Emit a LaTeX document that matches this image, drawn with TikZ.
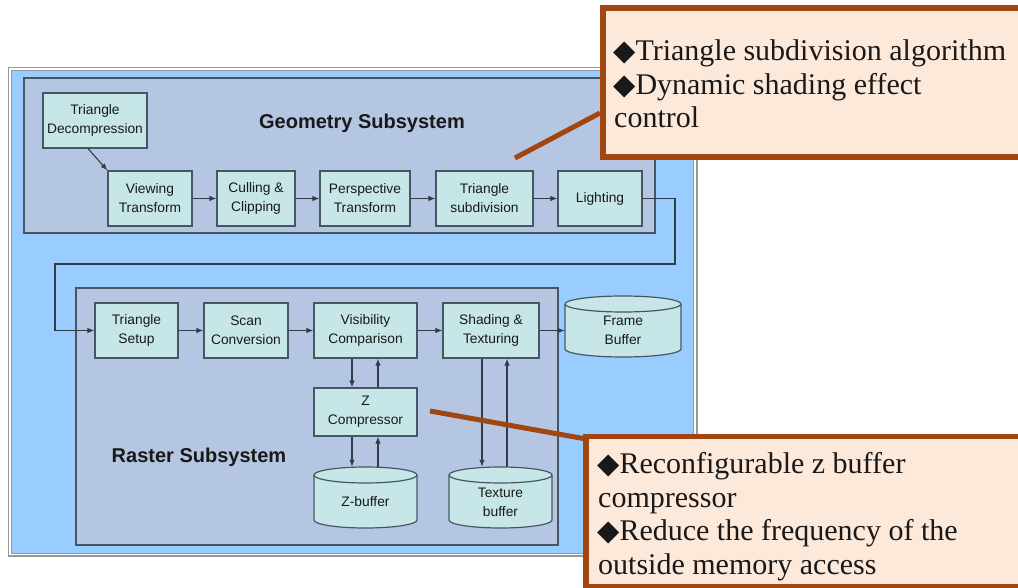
\documentclass[tikz,border=0pt]{standalone}
\usepackage{fontspec}
\setmainfont{Liberation Serif}
\setsansfont{Liberation Sans}
\newfontfamily\symfont{DejaVu Sans}
\usetikzlibrary{arrows.meta,calc}

\definecolor{panelblue}{RGB}{153,204,255}
\definecolor{subfill}{RGB}{180,198,226}
\definecolor{boxfill}{RGB}{198,230,232}
\definecolor{edgegray}{RGB}{72,86,100}
\definecolor{framegray}{RGB}{150,150,150}
\definecolor{notefill}{RGB}{253,233,218}
\definecolor{notebrown}{RGB}{160,70,14}
\definecolor{inkgray}{RGB}{25,25,25}

% drum-shaped store: centre x, centre y, half width, half height
\newcommand\drumshape[4]{%
  \filldraw[drumline]
    (#1-#3,#2-#4+8) -- (#1-#3,#2+#4-8)
    arc[start angle=180,end angle=0,x radius=#3,y radius=8]
    -- (#1+#3,#2-#4+8)
    arc[start angle=0,end angle=-180,x radius=#3,y radius=8] -- cycle;
  \draw[drumline] (#1-#3,#2-#4+8)
    arc[start angle=180,end angle=0,x radius=#3,y radius=8];
}
\newcommand\bullitem{{\symfont\fontsize{29}{34}\selectfont\char"25C6}}

\begin{document}
\begin{tikzpicture}[x=1pt,y=-1pt,
  blk/.style={draw=edgegray, line width=1.2pt, fill=boxfill, text=inkgray,
    font=\sffamily\fontsize{13.8}{19}\selectfont, align=center, inner sep=0pt},
  drumline/.style={draw=edgegray, line width=1.2pt, fill=boxfill},
  drumtext/.style={inner sep=0pt, align=center, text=inkgray,
    font=\sffamily\fontsize{13.8}{19}\selectfont},
  panel/.style={draw=edgegray, line width=1.3pt, fill=subfill},
  paneltitle/.style={text=inkgray, font=\sffamily\bfseries\fontsize{20}{24}\selectfont},
  arr/.style={draw=edgegray!70!black, line width=1.1pt,
    -{Latex[length=7pt,width=5.5pt]}},
  note/.style={draw=notebrown, line width=5.5pt, fill=notefill},
  notetext/.style={anchor=base west, inner sep=0pt, align=left, text=inkgray,
    font=\rmfamily\fontsize{30}{33.7}\selectfont},
  leader/.style={draw=notebrown, line width=5pt}]

\useasboundingbox (0,0) rectangle (1018,588);
\clip (0,0) rectangle (1018,588);

% outer raised frame
\draw[framegray, line width=1.6pt, fill=white] (8.5,67.5) rectangle (697,556);
\draw[draw=framegray, line width=0.8pt, fill=panelblue] (11.5,70.5) rectangle (693,553);

% subsystem panels
\node[panel, minimum width=631, minimum height=155, inner sep=0pt] (geo) at (339.5,155.5) {};
\node[panel, minimum width=482, minimum height=257, inner sep=0pt] (ras) at (317,416.5) {};
\node[paneltitle] (geot) at (362,123) {Geometry Subsystem};
\node[paneltitle] (rast) at (199,457) {Raster Subsystem};

% geometry pipeline
\node[blk, minimum width=104, minimum height=55] (dec) at (95,120.5) {Triangle\\Decompression};
\node[blk, minimum width=84, minimum height=55] (view) at (150,198.5) {Viewing\\Transform};
\node[blk, minimum width=78, minimum height=55] (cull) at (256,198.5) {Culling \&\\Clipping};
\node[blk, minimum width=90, minimum height=55] (persp) at (365,198.5) {Perspective\\Transform};
\node[blk, minimum width=97, minimum height=55] (tsub) at (484.5,198.5) {Triangle\\subdivision};
\node[blk, minimum width=84, minimum height=55] (light) at (600,198.5) {Lighting};

% raster pipeline
\node[blk, minimum width=83, minimum height=55] (setup) at (136.5,330.5) {Triangle\\Setup};
\node[blk, minimum width=84, minimum height=55] (scan) at (246,330.5) {Scan\\Conversion};
\node[blk, minimum width=103, minimum height=55] (vis) at (365.5,330.5) {Visibility\\Comparison};
\node[blk, minimum width=96, minimum height=55] (shade) at (491,330.5) {Shading \&\\Texturing};
\node[blk, minimum width=103, minimum height=48] (zc) at (365.5,412) {Z\\Compressor};

% storage drums
\drumshape{623}{326.5}{58}{30.5}
\drumshape{365.5}{497.5}{51.5}{30.5}
\drumshape{500.5}{497.5}{51.5}{30.5}
\node[drumtext, minimum width=116, minimum height=61] (fb) at (623,326.5) {};
\node[drumtext, minimum width=103, minimum height=61] (zb) at (365.5,497.5) {};
\node[drumtext, minimum width=103, minimum height=61] (tb) at (500.5,497.5) {};
\node[drumtext] (fbt) at (623,330) {Frame\\Buffer};
\node[drumtext] (zbt) at (365.5,502) {Z-buffer};
\node[drumtext] (tbt) at (500.5,502) {Texture\\buffer};

% geometry connectors
\draw[arr] ([xshift=-7pt]dec.south) -- (view.north west);
\draw[arr] (view) -- (cull);
\draw[arr] (cull) -- (persp);
\draw[arr] (persp) -- (tsub);
\draw[arr] (tsub) -- (light);

% hand-over from geometry to raster
\coordinate (loopR) at (675,264);
\coordinate (loopL) at (55,264);
\draw[arr] (light.east) -| (loopR) -- (loopL) |- (setup.west);

% raster connectors
\draw[arr] (setup) -- (scan);
\draw[arr] (scan) -- (vis);
\draw[arr] (vis) -- (shade);
\draw[arr] (shade.east) -- (shade.east -| fb.west);
\draw[arr] ([xshift=-13.5pt]vis.south) -- ([xshift=-13.5pt]zc.north);
\draw[arr] ([xshift=12.5pt]zc.north) -- ([xshift=12.5pt]vis.south);
\draw[arr] ([xshift=-13.5pt]zc.south) -- ([xshift=-13.5pt]zc.south |- zb.north);
\draw[arr] ([xshift=12.5pt]zc.south |- zb.north) -- ([xshift=12.5pt]zc.south);
\draw[arr] ([xshift=-9pt]shade.south) -- ([xshift=-9pt]shade.south |- tb.north);
\draw[arr] ([xshift=16pt]shade.south |- tb.north) -- ([xshift=16pt]shade.south);

% callouts
\coordinate (ld1a) at (515,158);
\coordinate (ld1b) at (600,113);
\coordinate (ld2a) at (430,411);
\coordinate (ld2b) at (586,439);
\draw[leader] (ld1a) -- (ld1b);
\draw[leader] (ld2a) -- (ld2b);

\node[note, minimum width=440, minimum height=149, inner sep=0pt] (n1) at (823,82.5) {};
\node[note, minimum width=460, minimum height=150, inner sep=0pt] (n2) at (816,511.5) {};

\node[notetext] (n1a) at (613,61) {\bullitem Triangle subdivision algorithm};
\node[notetext] (n1b) at (613,94.5) {\bullitem Dynamic shading effect};
\node[notetext] (n1c) at (614,128) {control};

\node[notetext] (n2a) at (597,473) {\bullitem Reconfigurable z buffer};
\node[notetext] (n2b) at (598,507) {compressor};
\node[notetext] (n2c) at (597,540.5) {\bullitem Reduce the frequency of the};
\node[notetext] (n2d) at (598,574) {outside memory access};
\end{tikzpicture}
\end{document}
